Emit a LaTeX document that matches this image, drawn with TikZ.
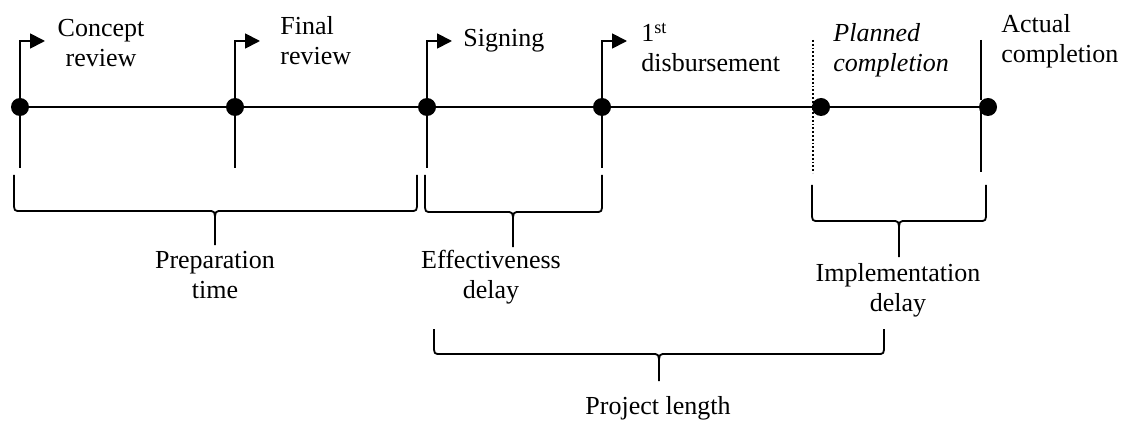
\documentclass[tikz,border=0pt]{standalone}
\usepackage{fontspec}
\setmainfont{Liberation Serif}
\usetikzlibrary{arrows.meta}

\newcommand{\spanbrace}[6]{%
  \draw[bracestyle] (#1,#3) -- (#1,#4-9) .. controls (#1,#4) .. (#1+7,#4) -- (#5-7,#4)
    .. controls (#5,#4) .. (#5,#4+11) -- (#5,#6);
  \draw[bracestyle] (#5,#4+11) .. controls (#5,#4) .. (#5+7,#4) -- (#2-7,#4)
    .. controls (#2,#4) .. (#2,#4-9) -- (#2,#3);}

\begin{document}
\begin{tikzpicture}[x=0.5pt, y=-0.5pt,
    every node/.style = {font=\fontsize{13}{15}\selectfont, inner sep=0pt},
    dot/.style = {circle, fill=black, minimum size=9pt},
    timeline/.style = {line width=1.4pt},
    tickline/.style = {line width=0.9pt},
    flag/.style = {line width=0.9pt, -{Triangle[length=7.5pt,width=7.5pt]}},
    bracestyle/.style = {line width=0.9pt}]
  \useasboundingbox (0,0) rectangle (1123,422);

  \node[dot] (concept) at (20,107) {};
  \node[dot] (final) at (235,107) {};
  \node[dot] (signing) at (427,107) {};
  \node[dot] (disb) at (602,107) {};
  \node[dot] (planned) at (821,107) {};
  \node[dot] (actual) at (988,107) {};
  \draw[timeline] (concept.center) -- (actual.center);

  \foreach \p in {concept, final, signing, disb} {
    \draw[flag] (\p.center) -- ++(0,-66) -- ++(25,0);
    \draw[tickline] (\p.center) -- ++(0,61);
  }
  \coordinate (plantop) at (813,40);
  \coordinate (planbot) at (813,173);
  \draw[tickline, densely dotted] (plantop) -- (planbot);
  \coordinate (acttop) at (981,40);
  \coordinate (actmid) at (981,100);
  \coordinate (actbot) at (981,172);
  \draw[tickline] (acttop) -- (actmid) (actual.center -| acttop) -- (actbot);

  \node[align=center, anchor=base] (conceptlab) at (101,67) {Concept\\review};
  \node[align=left, anchor=base west] (finallab) at (280,65) {Final\\review};
  \node[anchor=base west] (signinglab) at (463,47) {Signing};
  \node[align=left, anchor=base west] (disblab) at (641,72) {1\textsuperscript{st}\\disbursement};
  \node[align=left, anchor=base west] (plannedlab) at (833,72) {\itshape Planned\\\itshape completion};
  \node[align=left, anchor=base west] (actuallab) at (1001,63) {Actual\\completion};

  \spanbrace{14}{417}{175}{211}{215}{245}
  \spanbrace{425}{602}{175}{212}{513}{247}
  \spanbrace{812}{986}{185}{221}{899}{257}
  \spanbrace{434}{884}{329}{354}{659}{381}

  \node[align=center, anchor=base] (preplab) at (215,298) {Preparation\\time};
  \node[align=center, anchor=base] (efflab) at (491,298) {Effectiveness\\delay};
  \node[align=center, anchor=base] (impllab) at (898,311) {Implementation\\delay};
  \node[anchor=base] (projlab) at (658,414) {Project length};
\end{tikzpicture}
\end{document}
